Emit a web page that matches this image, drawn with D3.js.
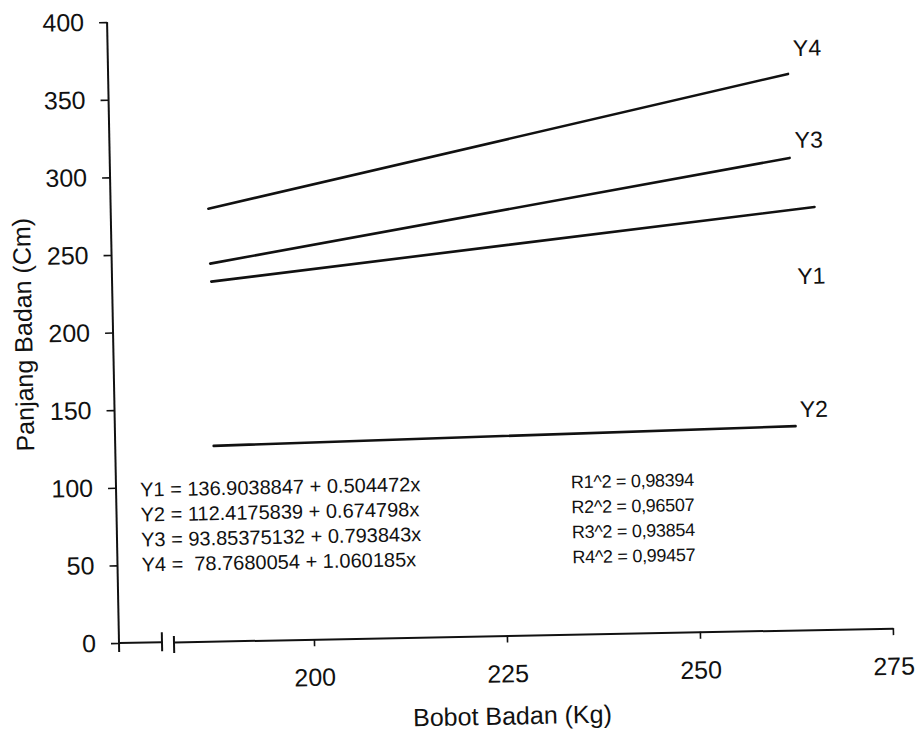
<!DOCTYPE html>
<html>
<head>
<meta charset="utf-8">
<script src="https://cdn.jsdelivr.net/npm/d3@7"></script>
<style>
    body { margin: 0; background: #fff; }
    text { font-family: "Liberation Sans", Arial, sans-serif; fill: #111; }
</style>
</head>
<body>
<script>
// line series (start / end of each regression line)
var series = ["Y1", "Y2", "Y3", "Y4"];
var bobotStart = [187.6, 187.5, 187.5, 187.4];
var bobotEnd = [265.9, 262.9, 262.8, 262.8];
var panjangStart = [231.6, 125.8, 243.2, 278.6];
var panjangEnd = [272.2, 131.3, 304.1, 358.2];

// where the Y labels sit, in data units
var labelBobot = 263.5;
var labelPanjang = [222.7, 136.9, 310.4, 369.6];

var xTicks = [200, 225, 250, 275];
var yTicks = [0, 50, 100, 150, 200, 250, 300, 350, 400];

var equations = [
    "Y1 = 136.9038847 + 0.504472x",
    "Y2 = 112.4175839 + 0.674798x",
    "Y3 = 93.85375132 + 0.793843x",
    "Y4 =  78.7680054 + 1.060185x"
];
var rSquared = [
    "R1^2 = 0,98394",
    "R2^2 = 0,96507",
    "R3^2 = 0,93854",
    "R4^2 = 0,99457"
];

window.onload = function(){

    var w = 917, h = 733;
    var ox = 119, oy = 643;   // axis origin

    var svg = d3.select("body")
        .append("svg")
        .attr("width", w)
        .attr("height", h);

    // the scanned page is tilted a little
    var chart = svg.append("g")
        .attr("transform", "rotate(-1.1," + ox + "," + oy + ")");

    var x = d3.scaleLinear()
        .domain([181.87, 275])
        .range([174, 893]);

    var y = d3.scaleLinear()
        .domain([0, 400])
        .range([oy, 22]);

    // y axis
    var yAxis = d3.axisLeft(y)
        .tickValues(yTicks)
        .tickSize(8)
        .tickSizeOuter(0)
        .tickPadding(15);

    var gy = chart.append("g")
        .attr("transform", "translate(" + ox + ",0)")
        .call(yAxis);
    gy.select(".domain").remove();
    gy.selectAll(".tick line").attr("stroke", "#111").attr("stroke-width", 1.6);
    gy.selectAll(".tick text")
        .attr("font-size", 25)
        .attr("font-family", "Liberation Sans, Arial, sans-serif")
        .attr("fill", "#111");

    chart.append("line")
        .attr("x1", ox).attr("x2", ox)
        .attr("y1", y(400)).attr("y2", oy + 9)
        .attr("stroke", "#111")
        .attr("stroke-width", 2);

    // x axis with the break near the origin
    var xAxis = d3.axisBottom(x)
        .tickValues(xTicks)
        .tickSize(7)
        .tickSizeOuter(0)
        .tickPadding(22);

    var gx = chart.append("g")
        .attr("transform", "translate(0," + oy + ")")
        .call(xAxis);
    gx.select(".domain").attr("stroke", "#111").attr("stroke-width", 2);
    gx.selectAll(".tick line").attr("stroke", "#111").attr("stroke-width", 1.6);
    gx.selectAll(".tick text")
        .attr("font-size", 25)
        .attr("font-family", "Liberation Sans, Arial, sans-serif")
        .attr("fill", "#111");

    chart.append("line")
        .attr("x1", ox).attr("x2", 162)
        .attr("y1", oy).attr("y2", oy)
        .attr("stroke", "#111")
        .attr("stroke-width", 2);

    chart.selectAll(".brk")
        .data([[162, -10, 9], [174, -6, 11]])
        .enter()
        .append("line")
        .attr("class", "brk")
        .attr("x1", function(d){ return d[0]; })
        .attr("x2", function(d){ return d[0]; })
        .attr("y1", function(d){ return oy + d[1]; })
        .attr("y2", function(d){ return oy + d[2]; })
        .attr("stroke", "#111")
        .attr("stroke-width", 2);

    // axis titles
    chart.append("text")
        .attr("x", 511)
        .attr("y", 732)
        .attr("text-anchor", "middle")
        .attr("font-size", 25)
        .text("Bobot Badan (Kg)");

    chart.append("text")
        .attr("transform", "translate(38,333) rotate(-90)")
        .attr("text-anchor", "middle")
        .attr("font-size", 25)
        .text("Panjang Badan (Cm)");

    // regression lines
    chart.selectAll(".series")
        .data(series)
        .enter()
        .append("line")
        .attr("class", "series")
        .attr("x1", function(d, i){ return x(bobotStart[i]); })
        .attr("y1", function(d, i){ return y(panjangStart[i]); })
        .attr("x2", function(d, i){ return x(bobotEnd[i]); })
        .attr("y2", function(d, i){ return y(panjangEnd[i]); })
        .attr("stroke", "#111")
        .attr("stroke-width", 2.6)
        .attr("stroke-linecap", "round");

    chart.selectAll(".seriesLabel")
        .data(series)
        .enter()
        .append("text")
        .attr("class", "seriesLabel")
        .attr("x", x(labelBobot))
        .attr("y", function(d, i){ return y(labelPanjang[i]); })
        .attr("font-size", 23)
        .text(function(d){ return d; });

    // equations and R^2
    chart.selectAll(".eq")
        .data(equations)
        .enter()
        .append("text")
        .attr("class", "eq")
        .attr("x", 143)
        .attr("y", function(d, i){ return 497 + i * 25; })
        .attr("font-size", 20)
        .style("white-space", "pre")
        .text(function(d){ return d; });

    chart.selectAll(".r2")
        .data(rSquared)
        .enter()
        .append("text")
        .attr("class", "r2")
        .attr("x", 574)
        .attr("y", function(d, i){ return 497 + i * 25; })
        .attr("font-size", 18)
        .attr("letter-spacing", -0.3)
        .style("white-space", "pre")
        .text(function(d){ return d; });
};
</script>
</body>
</html>
